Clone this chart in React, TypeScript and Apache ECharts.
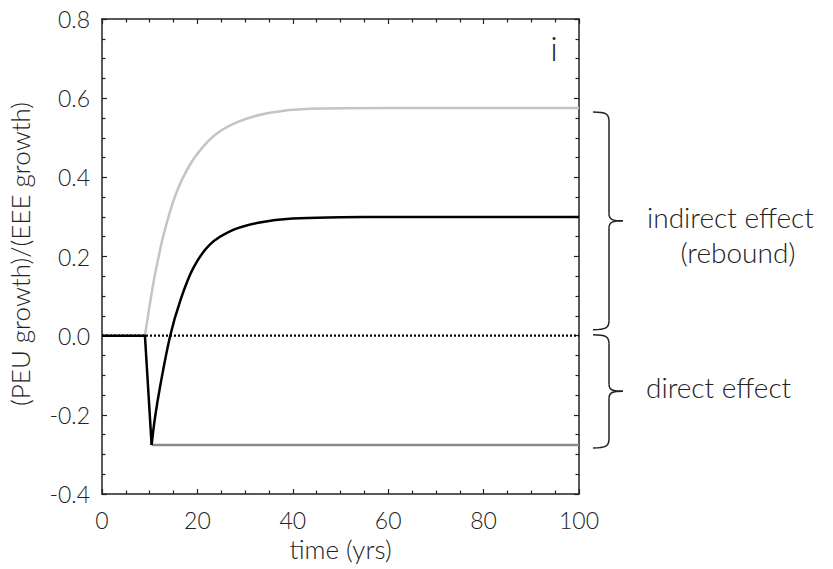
import React, { useEffect, useRef } from "react";
import * as echarts from "echarts";

const FONT = "Lato, 'Open Sans', 'Noto Sans', sans-serif";
const TEXT = "#222222";

// rebound-free response (light grey): positive "indirect" growth curve
const reboundTime = [9.0, 10.75, 11.8, 12.85, 14.9, 17.0, 19.9, 24.0, 28.9, 35.2, 43.6, 60, 80, 100];
const reboundValue = [0, 0.132, 0.195, 0.252, 0.338, 0.4, 0.458, 0.51, 0.542, 0.563, 0.573, 0.575, 0.575, 0.575];

// net response (black): flat, drop, then recovery
const netPreTime = [0, 9.0, 10.4];
const netPreValue = [0, 0, -0.276];
const netTime = [10.4, 11.1, 12.2, 14.3, 16.4, 19.1, 22.6, 27.5, 33.1, 40, 50, 60, 80, 100];
const netValue = [-0.276, -0.208, -0.127, 0, 0.088, 0.17, 0.23, 0.267, 0.286, 0.296, 0.299, 0.3, 0.3, 0.3];

// direct effect (mid grey)
const directTime = [10.4, 100];
const directValue = [-0.276, -0.276];

// zero reference (dotted)
const zeroTime = [0, 100];
const zeroValue = [0, 0];

// brace extents (data values)
const indirectBrace = [0.575, 0.0];
const directBrace = [0.0, -0.276];

const zip = (t: number[], v: number[]) => t.map((x, i) => [x, v[i]]);

export default function App() {
  const ref = useRef<HTMLDivElement>(null);
  useEffect(() => {
    document.body.style.margin = "0";
    if (!ref.current) return;
    const chart = echarts.init(ref.current, undefined, { renderer: "svg" });
    const axisLine = { show: true, onZero: false, lineStyle: { color: "#222", width: 1.5 } };
    const tick = { show: true, inside: true, length: 5, lineStyle: { color: "#222", width: 1.2 } };
    const minor = { show: true, splitNumber: 4, length: 3.5, lineStyle: { color: "#222", width: 1.2 } };
    const label = { fontSize: 23, color: TEXT, fontFamily: FONT, fontWeight: 300 };
    chart.setOption({
      animation: false,
      grid: { left: 102, top: 19, right: 254, bottom: 75, containLabel: false },
      xAxis: [
        {
          type: "value", min: 0, max: 100, interval: 20, position: "bottom",
          axisLine, axisTick: tick, minorTick: minor, splitLine: { show: false }, minorSplitLine: { show: false },
          axisLabel: { ...label, margin: 14 },
          name: "time (yrs)", nameLocation: "middle", nameGap: 40,
          nameTextStyle: { fontSize: 26, color: TEXT, fontFamily: FONT, fontWeight: 300 },
        },
        {
          type: "value", min: 0, max: 100, interval: 20, position: "top",
          axisLine, axisTick: tick, minorTick: minor, splitLine: { show: false }, axisLabel: { show: false },
        },
      ],
      yAxis: [
        {
          type: "value", min: -0.4, max: 0.8, interval: 0.2, position: "left",
          axisLine, axisTick: tick, minorTick: minor, splitLine: { show: false }, minorSplitLine: { show: false },
          axisLabel: { ...label, margin: 12, formatter: (v: number) => v.toFixed(1) },
        },
        {
          type: "value", min: -0.4, max: 0.8, interval: 0.2, position: "right",
          axisLine, axisTick: tick, minorTick: minor, splitLine: { show: false }, axisLabel: { show: false },
        },
      ],
      series: [
        {
          type: "line", data: zip(zeroTime, zeroValue), showSymbol: false, silent: true,
          lineStyle: { color: "#000", width: 2.3, type: [2, 2] }, z: 1,
        },
        {
          type: "line", data: zip(directTime, directValue), showSymbol: false,
          lineStyle: { color: "#8c8c8c", width: 2.5 }, z: 2,
        },
        {
          type: "line", data: zip(reboundTime, reboundValue), showSymbol: false, smooth: 0.35,
          lineStyle: { color: "#c4c4c4", width: 2.5 }, z: 2,
        },
        {
          type: "line", data: zip(netPreTime, netPreValue), showSymbol: false,
          lineStyle: { color: "#000", width: 2.5, join: "miter" }, z: 3,
        },
        {
          type: "line", data: zip(netTime, netValue), showSymbol: false, smooth: 0.35,
          lineStyle: { color: "#000", width: 2.5 }, z: 3,
        },
      ],
    });

    const py = (v: number) => chart.convertToPixel({ yAxisIndex: 0 }, v) as number;
    const stroke = { stroke: "#222", lineWidth: 1.5, fill: null };
    const brace = (yT: number, yB: number) => {
      const x0 = 593, xv = 609, xt = 623;
      const yM = (yT + yB) / 2;
      return [
        { type: "bezierCurve", shape: { x1: x0, y1: yT, cpx1: xv - 3, cpy1: yT, cpx2: xv, cpy2: yT + 2, x2: xv, y2: yT + 9 }, style: stroke },
        { type: "line", shape: { x1: xv, y1: yT + 9, x2: xv, y2: yM - 7 }, style: stroke },
        { type: "bezierCurve", shape: { x1: xv, y1: yM - 7, cpx1: xv, cpy1: yM - 1, cpx2: xv + 4, cpy2: yM, x2: xt, y2: yM }, style: stroke },
        { type: "bezierCurve", shape: { x1: xv, y1: yM + 7, cpx1: xv, cpy1: yM + 1, cpx2: xv + 4, cpy2: yM, x2: xt, y2: yM }, style: stroke },
        { type: "line", shape: { x1: xv, y1: yM + 7, x2: xv, y2: yB - 9 }, style: stroke },
        { type: "bezierCurve", shape: { x1: xv, y1: yB - 9, cpx1: xv, cpy1: yB - 2, cpx2: xv - 3, cpy2: yB, x2: x0, y2: yB }, style: stroke },
      ];
    };
    const b1T = py(indirectBrace[0]) + 4, b1B = py(indirectBrace[1]) - 6;
    const b2T = py(directBrace[0]) - 1, b2B = py(directBrace[1]) + 3;
    const txt = (text: string, x: number, y: number, size: number, align = "center") => ({
      type: "text", x, y,
      style: { text, fontSize: size, fontFamily: FONT, fontWeight: 300, fill: TEXT, align, verticalAlign: "middle" },
    });
    chart.setOption({
      graphic: [
        ...brace(b1T, b1B),
        ...brace(b2T, b2B),
        txt("indirect effect", 647, (b1T + b1B) / 2 - 4, 28, "left"),
        txt("(rebound)", 738, (b1T + b1B) / 2 + 31, 28),
        txt("direct effect", 646, (b2T + b2B) / 2 - 4, 28, "left"),
        txt("i", 554, 47, 34),
        {
          type: "text", x: 20, y: 254, rotation: Math.PI / 2,
          style: { text: "(PEU growth)/(EEE growth)", fontSize: 26, fontFamily: FONT, fontWeight: 300, fill: TEXT, align: "center", verticalAlign: "middle" },
        },
      ],
    });
    return () => chart.dispose();
  }, []);
  return <div ref={ref} style={{ width: 833, height: 569 }} />;
}
